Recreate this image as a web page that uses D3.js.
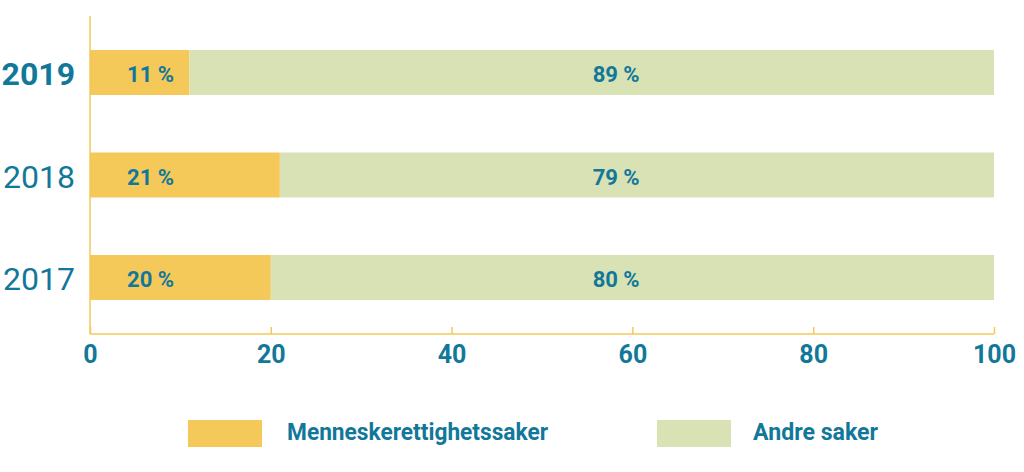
<!DOCTYPE html>
<html>
<head>
<meta charset="utf-8">
<script src="https://cdn.jsdelivr.net/npm/d3@7"></script>
<style>
  body { margin: 0; background: #fff; }
  svg text { font-family: Roboto, sans-serif; fill: #12789a; }
</style>
</head>
<body>
<svg id="chart" width="1024" height="472"></svg>
<script>
const years = ["2019", "2018", "2017"];
const humanRights = [11, 21, 20];
const otherCases = [89, 79, 80];
const seriesNames = ["Menneskerettighetssaker", "Andre saker"];
const xTicks = [0, 20, 40, 60, 80, 100];

const colors = ["#f5c85a", "#d8e2b4"];
const teal = "#12789a";

const svg = d3.select("#chart");

const x = d3.scaleLinear().domain([0, 100]).range([90, 994]);
const y = d3.scaleBand().domain(years).range([16, 334]).paddingInner(0.561).paddingOuter(0.332);

const rows = years.map((yr, i) => ({ year: yr, a: humanRights[i], b: otherCases[i] }));

const g = svg.selectAll(".row").data(rows).enter().append("g").attr("class", "row");

g.append("rect")
    .attr("x", x(0))
    .attr("y", d => y(d.year))
    .attr("width", d => x(d.a) - x(0))
    .attr("height", y.bandwidth())
    .attr("fill", colors[0]);

g.append("rect")
    .attr("x", d => x(d.a))
    .attr("y", d => y(d.year))
    .attr("width", d => x(d.a + d.b) - x(d.a))
    .attr("height", y.bandwidth())
    .attr("fill", colors[1]);

g.append("text")
    .attr("x", x(6.7))
    .attr("y", d => y(d.year) + y.bandwidth() / 2 + 9.5)
    .attr("text-anchor", "middle")
    .style("font-size", "22px")
    .style("font-weight", "700")
    .text(d => d.a + " %");

g.append("text")
    .attr("x", x(58.2))
    .attr("y", d => y(d.year) + y.bandwidth() / 2 + 9.5)
    .attr("text-anchor", "middle")
    .style("font-size", "22px")
    .style("font-weight", "700")
    .text(d => d.b + " %");

g.append("text")
    .attr("x", 75)
    .attr("y", d => y(d.year) + y.bandwidth() / 2 + 12.5)
    .attr("text-anchor", "end")
    .style("font-size", "32px")
    .style("font-weight", (d, i) => i === 0 ? "700" : "400")
    .text(d => d.year);

// axes
const axisG = svg.append("g").attr("transform", "translate(0,334)");
axisG.call(d3.axisBottom(x).tickValues(xTicks).tickSize(-7).tickPadding(11).tickFormat(d3.format("d")));
axisG.select(".domain").remove();
axisG.selectAll(".tick line").attr("stroke", colors[0]).attr("stroke-width", 1.5);
axisG.selectAll(".tick text")
    .attr("fill", teal)
    .style("font-family", "Roboto, sans-serif")
    .style("font-size", "25px")
    .style("font-weight", "700");
axisG.append("line").attr("x1", x(0)).attr("x2", x(100)).attr("y1", 0).attr("y2", 0)
    .attr("stroke", colors[0]).attr("stroke-width", 1.5);

svg.append("line").attr("x1", x(0)).attr("x2", x(0)).attr("y1", 16).attr("y2", 334)
    .attr("stroke", colors[0]).attr("stroke-width", 1.5);

// legend
const legendX = [188, 657];
const lg = svg.selectAll(".legend").data(seriesNames).enter().append("g")
    .attr("class", "legend")
    .attr("transform", (d, i) => `translate(${legendX[i]},420)`);
lg.append("rect").attr("width", 74).attr("height", 27).attr("fill", (d, i) => colors[i]);
lg.append("text")
    .attr("x", (d, i) => i === 0 ? 99 : 96)
    .attr("y", 20)
    .style("font-size", "24px")
    .style("font-weight", "700")
    .attr("textLength", (d, i) => i === 0 ? 261 : 125)
    .attr("lengthAdjust", "spacingAndGlyphs")
    .text(d => d);
</script>
</body>
</html>
